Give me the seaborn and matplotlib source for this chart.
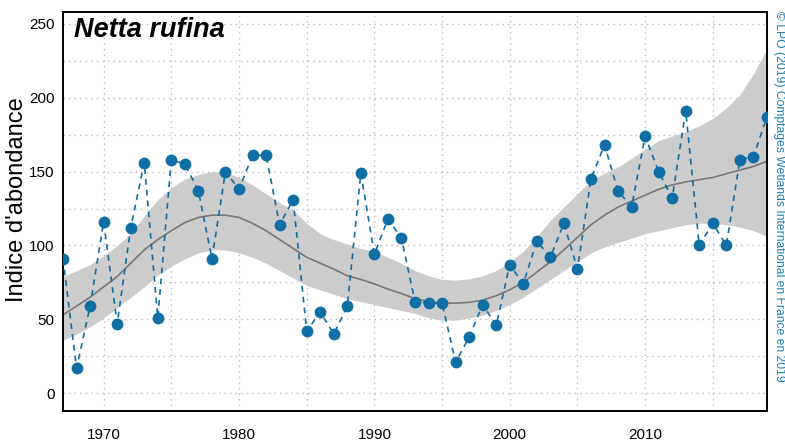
import numpy as np
import pandas as pd
import matplotlib
matplotlib.use("Agg")
import matplotlib.pyplot as plt
import seaborn as sns
from matplotlib.ticker import MultipleLocator

# données
annees = list(range(1967, 2020))
indice = [91, 17, 59, 116, 47, 112, 156, 51, 158, 155,
          137, 91, 150, 138, 161, 161, 114, 131, 42, 55,
          40, 59, 149, 94, 118, 105, 62, 61, 61, 21,
          38, 60, 46, 87, 74, 103, 92, 115, 84, 145,
          168, 137, 126, 174, 150, 132, 191, 100, 115, 100,
          158, 160, 187]
tendance = [53, 59, 65, 72, 79, 88, 97, 104, 110, 115.5,
            119, 120.5, 120.5, 119, 115, 110, 104, 98, 92, 88,
            84, 79.5, 77, 74, 70.5, 67.5, 64, 62, 61, 61,
            61.5, 63, 66, 70, 75, 82, 89, 97, 105.5, 114,
            120.5, 126, 130, 134, 138, 141, 143, 144.5, 146, 148.5,
            151, 153.5, 157]
ic_haut = [79, 83, 87, 93, 100, 108, 120, 131, 139, 145,
           148, 150, 149.5, 146, 141, 135, 129, 124, 115, 108,
           104, 101, 98, 96, 92, 88, 83, 79.5, 77, 76.5,
           77.5, 79.5, 83, 89, 96, 106, 117, 126, 135, 144,
           149, 153, 159, 165, 171, 174, 177, 181, 186, 193,
           202, 216, 233]
ic_bas = [36, 40, 45, 51, 58, 65, 72, 80, 86, 91,
          95, 97, 97, 95, 92, 88, 83, 78, 73, 70,
          67, 64, 62, 60, 58, 56, 54, 51, 49.5, 49.5,
          51, 53, 56, 60, 65, 71, 77, 83, 89, 95,
          99, 102, 105, 108, 110, 112, 114, 115, 115, 114,
          112.5, 110, 106]

df = pd.DataFrame({"annee": annees, "indice": indice, "tendance": tendance,
                   "bas": ic_bas, "haut": ic_haut})

sns.set_style("white")
plt.rcParams["font.family"] = ["Liberation Sans", "DejaVu Sans"]
plt.rcParams["text.color"] = "black"
plt.rcParams["axes.labelcolor"] = "black"
plt.rcParams["xtick.color"] = "black"
plt.rcParams["ytick.color"] = "black"

BLEU = "#0f6ea3"

fig = plt.figure(figsize=(7.85, 4.43), dpi=100)
ax = fig.add_axes([0.0803, 0.0722, 0.8967, 0.9008])

ax.fill_between(df["annee"], df["bas"], df["haut"], color="#cccccc", lw=0, zorder=1)
sns.lineplot(data=df, x="annee", y="tendance", ax=ax, color="#777777", lw=1.2, zorder=2)
sns.lineplot(data=df, x="annee", y="indice", ax=ax, color=BLEU, lw=1.2,
             linestyle=(0, (3.5, 3)), marker="o", markersize=8.5,
             markeredgewidth=0, zorder=3)

ax.set_xlim(1967, 2019)
ax.set_ylim(-12, 258)
ax.xaxis.set_major_locator(MultipleLocator(10))
ax.xaxis.set_minor_locator(MultipleLocator(5))
ax.yaxis.set_major_locator(MultipleLocator(50))
ax.yaxis.set_minor_locator(MultipleLocator(25))
ax.grid(which="both", color="#bbbbbb", linestyle=(0, (1, 3)), lw=1)
ax.tick_params(which="major", direction="in", length=10, width=1.2, color="black",
               labelsize=11)
ax.tick_params(axis="x", which="major", pad=12.5)
ax.tick_params(axis="y", which="major", pad=6)
ax.tick_params(which="minor", length=0)
for s in ax.spines.values():
    s.set_color("black")
    s.set_linewidth(1.4)

ax.set_xlabel("")
ax.set_ylabel("Indice d'abondance", fontsize=17)
ax.yaxis.set_label_coords(-0.050, 0.529)
ax.text(0.016, 0.955, "Netta rufina", transform=ax.transAxes, fontsize=19.5,
        fontweight="bold", fontstyle="italic", va="center", ha="left", color="black")
fig.text(0.992, 0.975, "© LPO (2019) Comptages Wetlands International en France en 2019",
         rotation=270, color="#1f7fb8", fontsize=8.7, ha="center", va="top")

fig.savefig("out.png", dpi=100)
